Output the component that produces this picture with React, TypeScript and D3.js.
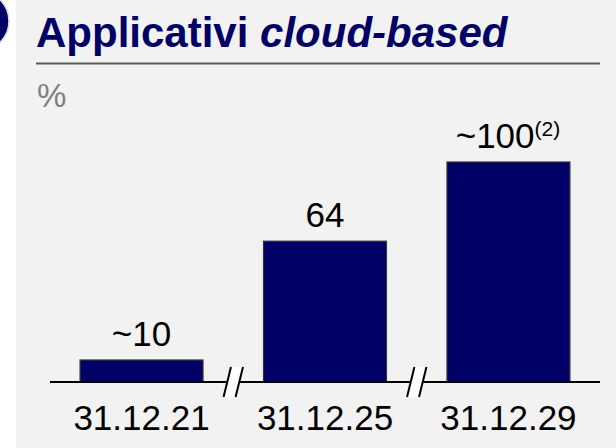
import React from "react";
import * as d3 from "d3";

const categories = ["31.12.21", "31.12.25", "31.12.29"];
const values = [10, 64, 100];
const valueLabels = ["~10", "64", "~100"];
const valueNotes = ["", "", "(2)"];
const titleMain = "Applicativi ";
const titleItalic = "cloud-based";
const unitLabel = "%";

const W = 616;
const H = 448;
const NAVY = "#000066";
const FONT = "'Liberation Sans', Arial, Helvetica, sans-serif";

export default function App() {
  const x = d3
    .scaleBand<string>()
    .domain(categories)
    .range([50, 600])
    .paddingInner(0.33)
    .paddingOuter(0.164);
  const y = d3.scaleLinear().domain([0, 100]).range([382, 162]);
  const baseY = y(0);

  // break positions: midpoints between consecutive bars
  const breaks = categories.slice(1).map((c, i) => {
    const prevEnd = (x(categories[i]) as number) + x.bandwidth();
    const nextStart = x(c) as number;
    return (prevEnd + nextStart) / 2;
  });

  const half = 15;
  const slant = 3.7;
  const gap = 6;

  return (
    <svg
      width={W}
      height={H}
      style={{ position: "absolute", left: 0, top: 0, display: "block" }}
    >
      <rect x={0} y={0} width={W} height={H} fill="#ffffff" />
      <rect x={16} y={0} width={W - 16} height={H} fill="#f2f2f2" />
      <circle cx={-21} cy={21} r={30} fill={NAVY} stroke="#d9d9e6" strokeWidth={1.5} />

      <text x={36} y={47} fontFamily={FONT} fontSize={42} fontWeight="bold" fill={NAVY}>
        {titleMain}
        <tspan fontStyle="italic">{titleItalic}</tspan>
      </text>
      <line x1={36} x2={600} y1={63.5} y2={63.5} stroke="#595959" strokeWidth={2} />

      <text x={37} y={107} fontFamily={FONT} fontSize={33} fill="#808080">
        {unitLabel}
      </text>

      {categories.map((c, i) => (
        <rect
          key={"b" + c}
          x={x(c)}
          y={y(values[i])}
          width={x.bandwidth()}
          height={baseY - y(values[i])}
          fill={NAVY}
          stroke="#333333"
          strokeWidth={1.2}
        />
      ))}

      <line x1={50} x2={600} y1={baseY} y2={baseY} stroke="#000" strokeWidth={2} />

      {breaks.map((bx, i) => (
        <g key={"br" + i}>
          <polygon
            points={`${bx - gap - slant},${baseY + half} ${bx - gap + slant},${baseY - half} ${bx + gap + slant},${baseY - half} ${bx + gap - slant},${baseY + half}`}
            fill="#ffffff"
          />
          <line
            x1={bx - gap - slant}
            y1={baseY + half}
            x2={bx - gap + slant}
            y2={baseY - half}
            stroke="#000"
            strokeWidth={2}
          />
          <line
            x1={bx + gap - slant}
            y1={baseY + half}
            x2={bx + gap + slant}
            y2={baseY - half}
            stroke="#000"
            strokeWidth={2}
          />
        </g>
      ))}

      {categories.map((c, i) => (
        <text
          key={"v" + c}
          x={(x(c) as number) + x.bandwidth() / 2 + (valueNotes[i] ? -0.5 : 0)}
          y={y(values[i]) - 14}
          textAnchor="middle"
          fontFamily={FONT}
          fontSize={35}
          fill="#000"
        >
          {valueLabels[i]}
          {valueNotes[i] ? (
            <tspan fontSize={21} dy={-12}>
              {valueNotes[i]}
            </tspan>
          ) : null}
        </text>
      ))}

      {categories.map((c) => (
        <text
          key={"c" + c}
          x={(x(c) as number) + x.bandwidth() / 2}
          y={430}
          textAnchor="middle"
          fontFamily={FONT}
          fontSize={35}
          fill="#000"
        >
          {c}
        </text>
      ))}
    </svg>
  );
}
